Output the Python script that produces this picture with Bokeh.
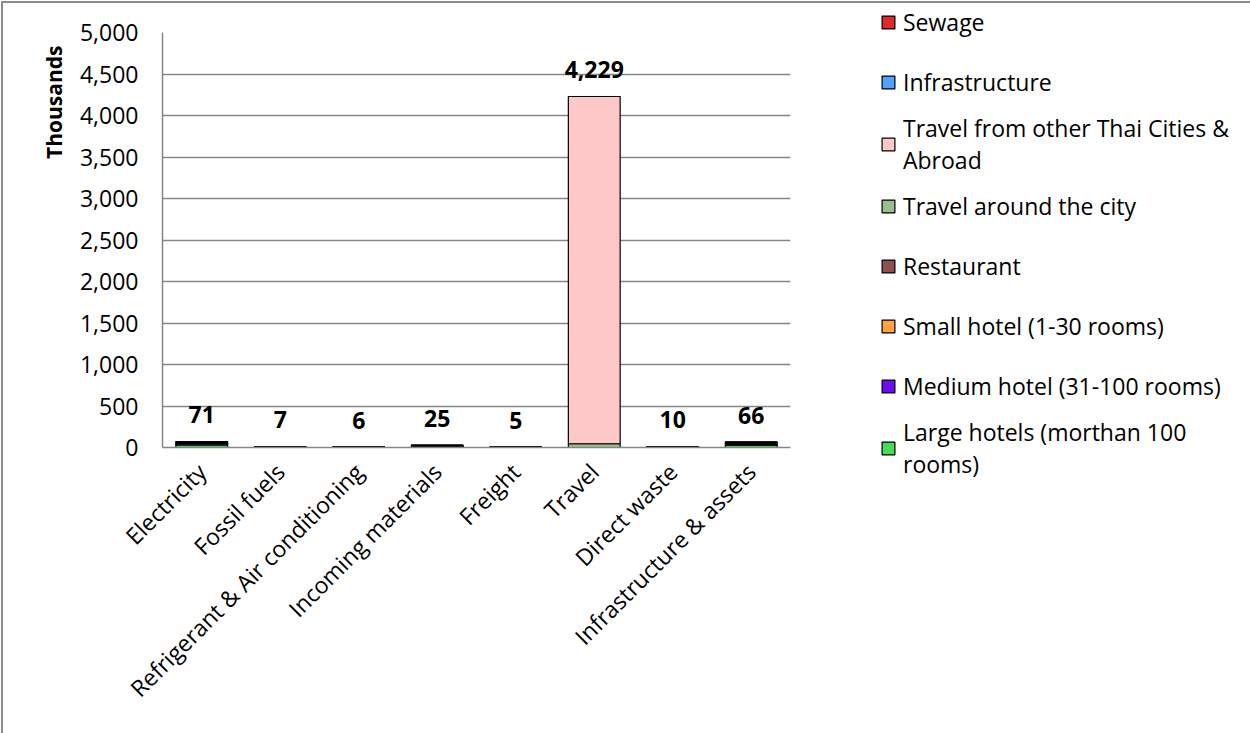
import math
from bokeh.plotting import figure
from bokeh.models import (ColumnDataSource, FactorRange, Range1d, Legend, LegendItem,
                          LabelSet, NumeralTickFormatter, FixedTicker, Title)
from bokeh.core.properties import value
from bokeh.embed import file_html
from bokeh.resources import INLINE

# ---------------- data (thousands) ----------------
categories = ["Electricity", "Fossil fuels", "Refrigerant & Air conditioning",
              "Incoming materials", "Freight", "Travel", "Direct waste",
              "Infrastructure & assets"]

large_hotels   = [32, 3.0, 3.0, 11, 2, 0,    4.0, 28]
medium_hotel   = [16, 1.5, 1.5, 6,  1, 0,    2.0, 15]
small_hotel    = [9,  1.0, 0.5, 3,  1, 0,    1.5, 8]
restaurant     = [14, 1.5, 1.0, 5,  1, 0,    1.5, 10]
travel_city    = [0,  0,   0,   0,  0, 45,   0,   0]
travel_abroad  = [0,  0,   0,   0,  0, 4184, 0,   0]
infrastructure = [0,  0,   0,   0,  0, 0,    0,   5]
sewage         = [0,  0,   0,   0,  0, 0,    1.0, 0]

series_keys = ["large", "medium", "small", "restaurant", "travel_city",
               "travel_abroad", "infrastructure", "sewage"]
series_vals = [large_hotels, medium_hotel, small_hotel, restaurant, travel_city,
               travel_abroad, infrastructure, sewage]
series_names = ["Large hotels (morthan 100\nrooms)", "Medium hotel (31-100 rooms)",
                "Small hotel (1-30 rooms)", "Restaurant", "Travel around the city",
                "Travel from other Thai Cities &\nAbroad", "Infrastructure", "Sewage"]
series_colors = ["#44DD55", "#6A0DF5", "#FFA23F", "#8C5252", "#9BBE8E",
                 "#FFC8C8", "#4DA3FF", "#E0282F"]

y_ticks = [0, 500, 1000, 1500, 2000, 2500, 3000, 3500, 4000, 4500, 5000]

# ---------------- sources ----------------
data = {"cat": categories}
for k, v in zip(series_keys, series_vals):
    data[k] = v
source = ColumnDataSource(data)

totals = [sum(vals) for vals in zip(*series_vals)]
lab_src = ColumnDataSource(dict(cat=categories, total=totals,
                                txt=["{:,.0f}".format(t) for t in totals]))

FONT = "Open Sans"
GRAY = "#868686"

p = figure(x_range=FactorRange(*categories, range_padding=0),
           y_range=Range1d(0, 5000),
           frame_width=628, frame_height=415,
           min_border_left=159, min_border_right=460,
           min_border_top=29, min_border_bottom=286,
           output_backend="svg", toolbar_location=None)

p.styles = {"border-top": "2px solid #8c8c8c", "border-left": "2px solid #8c8c8c",
            "margin-left": "1px", "margin-top": "1px"}

renderers = p.vbar_stack(series_keys, x="cat", width=0.66, source=source,
                         fill_color=series_colors, line_color="black", line_width=1.2)

labels = LabelSet(x="cat", y="total", text="txt", source=lab_src,
                  text_align="center", text_baseline="middle", y_offset=27,
                  text_font=value(FONT), text_font_style="bold", text_font_size="23px",
                  text_color="black")
p.add_layout(labels)

# legend (top series first, as in the reference)
items = [LegendItem(label=n, renderers=[r]) for n, r in zip(series_names, renderers)][::-1]
legend = Legend(items=items, location=(90, -33), orientation="vertical",
                glyph_width=16, glyph_height=16, label_height=60, spacing=0,
                label_standoff=7, padding=0, margin=0,
                border_line_color=None, background_fill_alpha=0,
                label_text_font=FONT, label_text_font_size="23px",
                label_text_color="black")
p.add_layout(legend, "right")

# y axis title, placed at the top like the reference
ytitle = Title(text="Thousands", align="right", text_font=FONT, text_font_style="bold",
               text_font_size="21px", text_color="black", offset=13, standoff=17)
p.add_layout(ytitle, "left")

# axes
p.yaxis.ticker = FixedTicker(ticks=y_ticks)
p.yaxis.formatter = NumeralTickFormatter(format="0,0")
for ax in (p.xaxis[0], p.yaxis[0]):
    ax.axis_line_color = GRAY
    ax.axis_line_width = 1.5
    ax.major_tick_line_color = None
    ax.minor_tick_line_color = None
    ax.major_tick_out = 0
    ax.major_tick_in = 0
    ax.major_label_text_font = FONT
    ax.major_label_text_font_size = "23px"
    ax.major_label_text_color = "black"
p.yaxis.major_label_standoff = 24
p.xaxis.major_label_orientation = math.pi / 4
p.xaxis.major_label_standoff = 20

p.xgrid.grid_line_color = None
p.ygrid.grid_line_color = GRAY
p.ygrid.grid_line_width = 1.4
p.outline_line_color = None
p.background_fill_color = "white"
p.border_fill_color = "white"

open("out.html", "w").write(file_html(p, INLINE))
